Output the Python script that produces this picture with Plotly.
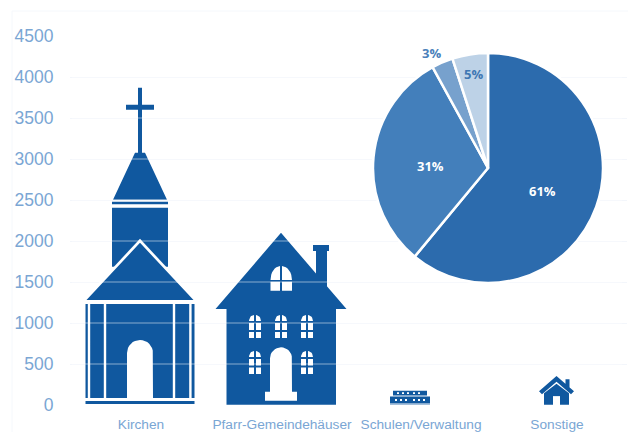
import math
import plotly.graph_objects as go

# Building totals shown as pictograms
categories = ["Kirchen", "Pfarr-Gemeindehäuser", "Schulen/Verwaltung", "Sonstige"]
building_values = [3870, 2100, 175, 355]
y_ticks = [0, 500, 1000, 1500, 2000, 2500, 3000, 3500, 4000, 4500]

# Share of each building type in the inset pie
pie_labels = ["Kirchen", "Pfarr-Gemeindehäuser", "Schulen/Verwaltung", "Sonstige"]
pie_shares = [61, 31, 3, 5]

W, H = 628, 432
DARK = "#10589f"
WHITE = "#ffffff"
TICK = "#7aa6d4"
PIE_COLOURS = ["#2c6bad", "#437fbb", "#77a1cd", "#bdd2e7"]


# Small polygon helpers: x is the offset from an icon's centre, h the height above its base
def rect(x0, x1, h0, h1):
    return [(x0, h0), (x1, h0), (x1, h1), (x0, h1)]


def arch(x0, x1, h0, spring):
    r = (x1 - x0) / 2
    c = (x0 + x1) / 2
    top = [(c - r * math.cos(math.pi * k / 16), spring + r * math.sin(math.pi * k / 16)) for k in range(17)]
    return [(x0, h0)] + top + [(x1, h0)]


def arch_pane(x0, x1, h0, h1, left):
    steps = range(9)
    w, t = x1 - x0, h1 - h0
    if left:
        curve = [(x1 - w * math.cos(math.pi * k / 16), h0 + t * math.sin(math.pi * k / 16)) for k in steps]
        return [(x1, h0), (x0, h0)] + curve
    curve = [(x0 + w * math.sin(math.pi * k / 16), h0 + t * math.cos(math.pi * k / 16)) for k in steps]
    return [(x0, h0)] + curve + [(x1, h0)]


def small_window(cx, r1, r2, r3):
    panes = []
    for a, b, left in ((cx - 6, cx - 1, True), (cx + 1, cx + 6, False)):
        panes.append(arch_pane(a, b, r1[0], r1[1], left))
        panes.append(rect(a, b, *r2))
        panes.append(rect(a, b, *r3))
    return panes


def counter_clockwise(poly):
    # Overlapping parts of one trace must wind the same way or the overlap renders as a hole
    area = sum(a[0] * b[1] - b[0] * a[1] for a, b in zip(poly, poly[1:] + poly[:1]))
    return poly if area > 0 else poly[::-1]


church = {
    "center": 140, "height": 317, "layers": [
        (DARK, [
            rect(-2, 2, 245, 317), rect(-14, 14, 295, 300),
            [(-27, 205), (-5, 252), (5, 252), (27, 205)],
            rect(-28, 28, 200.5, 203), rect(-28, 28, 138, 197),
        ]),
        (WHITE, [[(-58, 104), (0, 166), (58, 104)]]),
        (DARK, [
            [(-53.5, 105), (0, 162), (53.5, 105)],
            rect(-54.5, 54.5, 7, 101), rect(-54.5, 54.5, 1, 4),
        ]),
        (WHITE, [
            rect(-52.2, -49.8, 7, 101), rect(-36.2, -33.8, 7, 101),
            rect(32.8, 35.2, 7, 101), rect(49.2, 51.6, 7, 101),
            arch(-13, 13, 7, 52),
        ]),
    ],
}

house_panes = [
    rect(-10.5, -1, 114.3, 123.3), rect(1, 11, 114.3, 123.3),
    arch_pane(-10.5, -1, 125, 139, True), arch_pane(1, 11, 125, 139, False),
    arch(-11, 11, 13, 46.7), rect(-16, 16, 4.3, 13.3),
]
for cx in (-26, 0, 26):
    house_panes += small_window(cx, (84, 90), (75, 82), (67, 73))
for cx in (-26, 26):
    house_panes += small_window(cx, (48, 54), (39.5, 46), (31, 37.5))

house = {
    "center": 281, "height": 172.3, "layers": [
        (DARK, [
            [(-65.5, 96), (0, 172.3), (65.5, 96)],
            rect(-54.5, 55, 0, 96),
            rect(35, 46, 118, 155), rect(32, 48, 154, 160),
        ]),
        (WHITE, house_panes),
    ],
}

school = {
    "center": 410, "height": 14.5, "layers": [
        (DARK, [rect(-20, 20, 1.5, 8.5), rect(-17, 17, 9.5, 14.5), rect(-20, 20, -0.5, 0.5)]),
        (WHITE, [rect(x, x + 2, 4, 6) for x in (-15, -10, -5, 3, 8, 13)]
                + [rect(x, x + 2, 11, 13) for x in (-13, -8, -3, 3, 8)]),
    ],
}

small_house = {
    "center": 556.5, "height": 29.5, "layers": [
        (DARK, [
            [(0, 29.5), (-17.5, 14), (-14.5, 11), (0, 23.5), (14.5, 11), (17.5, 14)],
            rect(9, 13, 18, 26),
            [(-12.5, -1), (-12.5, 12), (0, 21.5), (12.5, 12), (12.5, -1)],
        ]),
        (WHITE, [rect(-3.5, 3.5, -1, 9)]),
    ],
}

icons = [church, house, school, small_house]
label_centers = [141, 282, 421, 557]

fig = go.Figure()


# Each pictogram is scaled so that its top sits at the building's value on the y axis
def add_icon(icon, value):
    scale = value / icon["height"]
    for colour, polygons in icon["layers"]:
        xs, ys = [], []
        for poly in polygons:
            poly = counter_clockwise(poly)
            closed = poly + [poly[0]]
            xs += [icon["center"] + p[0] for p in closed] + [None]
            ys += [p[1] * scale for p in closed] + [None]
        fig.add_trace(go.Scatter(
            x=xs, y=ys, mode="lines", fill="toself", fillcolor=colour,
            line=dict(width=0, color=colour), hoverinfo="skip", showlegend=False,
        ))


for icon, value in zip(icons, building_values):
    add_icon(icon, value)

# Pale lines over the pictograms continue the axis grid through them
for tick in y_ticks:
    fig.add_trace(go.Scatter(
        x=[72, 622], y=[tick, tick], mode="lines", cliponaxis=False,
        line=dict(width=1, color="rgba(255,255,255,0.5)"),
        hoverinfo="skip", showlegend=False,
    ))

fig.add_trace(go.Pie(
    labels=pie_labels, values=pie_shares, sort=False, direction="clockwise", rotation=0,
    marker=dict(colors=PIE_COLOURS, line=dict(color=WHITE, width=2.5)),
    textinfo="none", showlegend=False, hoverinfo="label+percent",
    domain=dict(x=[373 / W, 603 / W], y=[1 - 283 / H, 1 - 53 / H]),
))

# Slice captions, placed by hand because the 3% slice is too narrow to hold its text
caption_spots = [(542, 191, WHITE), (430, 166, WHITE), (431, 53, "#4a80ba"), (473, 74, "#3f77b3")]
annotations = [
    dict(x=px / W, y=1 - py / H, xref="paper", yref="paper", xanchor="center", yanchor="middle",
         text=f"{share}%", showarrow=False,
         font=dict(family="Open Sans", size=13, color=colour, weight="bold"))
    for share, (px, py, colour) in zip(pie_shares, caption_spots)
]

fig.update_layout(
    width=W, height=H, margin=dict(l=0, r=0, t=0, b=0),
    paper_bgcolor=WHITE, plot_bgcolor=WHITE, showlegend=False,
    annotations=annotations,
    shapes=[dict(type="path", xref="paper", yref="paper",
                 path=f"M {12 / W} 0 L {12 / W} {1 - 11 / H} L 1 {1 - 11 / H}",
                 line=dict(color="#f5f8fc", width=1), layer="below")],
    xaxis=dict(
        domain=[70 / W, 627 / W], range=[70, 627], showgrid=False, zeroline=False, showline=False,
        automargin=False, tickmode="array", tickvals=label_centers, ticktext=categories, tickangle=0,
        ticks="outside", ticklen=7, tickcolor="rgba(0,0,0,0)",
        tickfont=dict(family="Liberation Sans", size=13.7, color=TICK),
    ),
    yaxis=dict(
        domain=[1 - 405 / H, 1 - 36 / H], range=[0, 4500], showgrid=True, gridcolor="#f3f6fb", gridwidth=1,
        zeroline=False, showline=False,
        automargin=False, tickmode="array", tickvals=y_ticks,
        ticks="outside", ticklen=12, tickcolor="rgba(0,0,0,0)",
        tickfont=dict(family="Liberation Sans", size=17.5, color=TICK),
    ),
)

fig.write_html("out.html")
